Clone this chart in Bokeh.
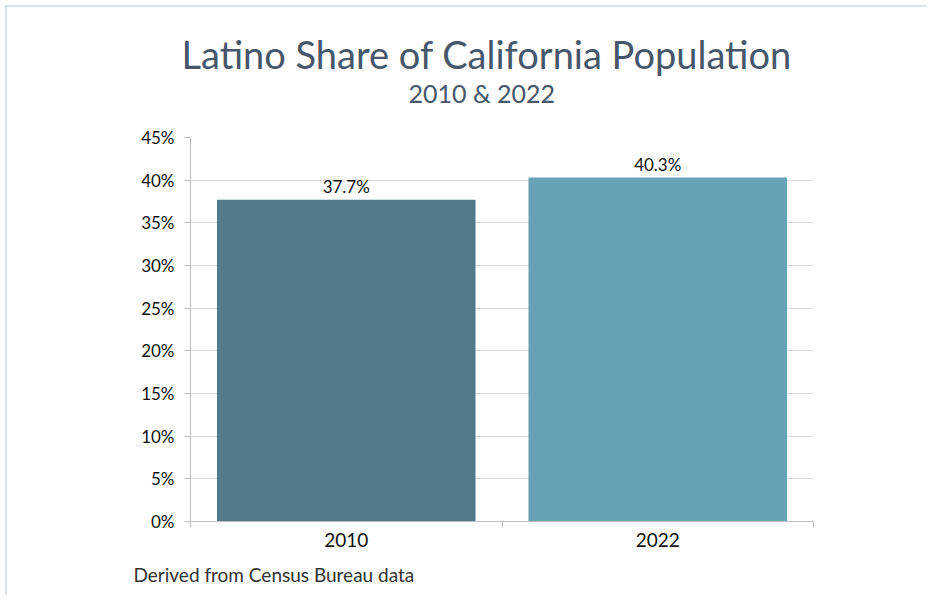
from bokeh.plotting import figure
from bokeh.models import ColumnDataSource, FixedTicker, Title, LabelSet, Range1d
from bokeh.core.properties import value
from bokeh.embed import file_html
from bokeh.resources import INLINE

# ---- data ----
years = ["2010", "2022"]
shares = [37.7, 40.3]
share_labels = ["37.7%", "40.3%"]
bar_colors = ["#527b8a", "#66a1b6"]
y_ticks = [0, 5, 10, 15, 20, 25, 30, 35, 40, 45]
y_tick_labels = ["0%", "5%", "10%", "15%", "20%", "25%", "30%", "35%", "40%", "45%"]
title_text = "Latino Share of California Population"
subtitle_text = "2010 & 2022"
source_text = "Derived from Census Bureau data"

FONT = "Lato"

xs = [i + 0.5 for i in range(len(years))]
src = ColumnDataSource(dict(x=xs, top=shares, color=bar_colors, label=share_labels))

p = figure(width=922, height=590,
           x_range=Range1d(0, len(years)), y_range=Range1d(0, 45),
           output_backend="svg", toolbar_location=None,
           min_border_left=183, min_border_right=116,
           min_border_top=130, min_border_bottom=76)
p.styles = {"margin": "5px 0 0 5px",
            "border-top": "2px solid #dde3ec", "border-left": "2px solid #dde3ec"}

p.vbar(x="x", top="top", bottom=0, width=0.83, color="color", line_color=None, source=src)

labels = LabelSet(x="x", y="top", text="label", source=src, y_offset=13,
                  text_align="center", text_baseline="middle",
                  text_font=value(FONT), text_font_size="17px", text_color="#111111")
p.add_layout(labels)

# x axis
p.xaxis.ticker = FixedTicker(ticks=xs, minor_ticks=list(range(len(years) + 1)))
p.xaxis.major_label_overrides = {x: y for x, y in zip(xs, years)}
p.xaxis.major_tick_out = 0
p.xaxis.major_tick_in = 0
p.xaxis.minor_tick_out = 6
p.xaxis.minor_tick_in = 0
p.xaxis.minor_tick_line_color = "#bfbfbf"
p.xaxis.axis_line_color = "#bfbfbf"
p.xaxis.major_label_text_font = FONT
p.xaxis.major_label_text_font_size = "19px"
p.xaxis.major_label_text_color = "#111111"
p.xaxis.major_label_standoff = 5

# y axis
p.yaxis.ticker = FixedTicker(ticks=y_ticks)
p.yaxis.major_label_overrides = {t: l for t, l in zip(y_ticks, y_tick_labels)}
p.yaxis.major_tick_out = 6
p.yaxis.major_tick_in = 0
p.yaxis.minor_tick_line_color = None
p.yaxis.major_tick_line_color = "#bfbfbf"
p.yaxis.axis_line_color = "#bfbfbf"
p.yaxis.major_label_text_font = FONT
p.yaxis.major_label_text_font_size = "17px"
p.yaxis.major_label_text_color = "#111111"
p.yaxis.major_label_standoff = 10

p.xgrid.grid_line_color = None
p.ygrid.grid_line_color = "#d9d9d9"
p.outline_line_color = None

# titles
sub = Title(text=subtitle_text, align="left", offset=218,
            text_font=FONT, text_font_size="25px", text_font_style="normal",
            text_color="#46566b", standoff=60)
p.add_layout(sub, "above")
main = Title(text=title_text, align="left", offset=-9,
             text_font=FONT, text_font_size="38px", text_font_style="normal",
             text_color="#46566b", standoff=-63)
p.add_layout(main, "above")

foot = Title(text=source_text, align="left", offset=-57,
             text_font=FONT, text_font_size="19px", text_font_style="normal",
             text_color="#333333", standoff=23)
p.add_layout(foot, "below")

with open("out.html", "w") as f:
    f.write(file_html(p, INLINE))
